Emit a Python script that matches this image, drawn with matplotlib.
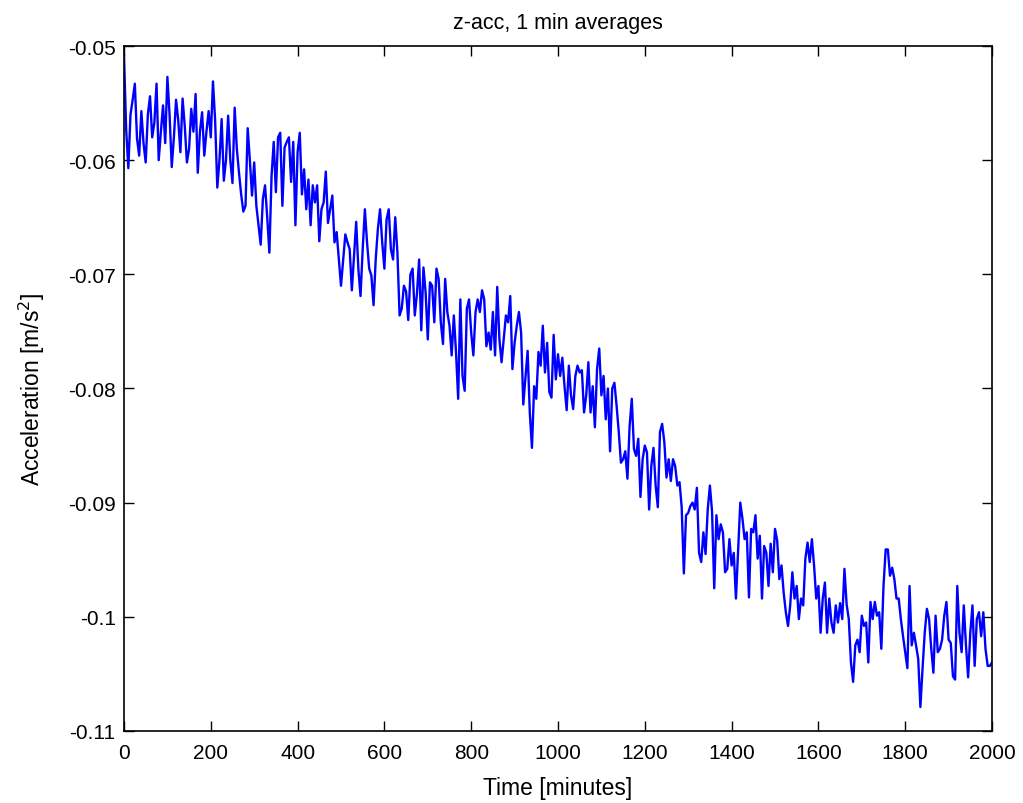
import numpy as np
import matplotlib
matplotlib.use("Agg")
import matplotlib.pyplot as plt

# --- data (one value every 5 minutes) ---
minutes = list(range(0, 2001, 5))
acc = [
    -0.0508, -0.0573, -0.0607, -0.0560, -0.0547, -0.0533, -0.0581, -0.0596, -0.0557, -0.0585,
    -0.0602, -0.0560, -0.0544, -0.0580, -0.0567, -0.0533, -0.0600, -0.0575, -0.0552, -0.0585,
    -0.0527, -0.0560, -0.0606, -0.0580, -0.0547, -0.0565, -0.0593, -0.0546, -0.0570, -0.0602,
    -0.0590, -0.0555, -0.0575, -0.0542, -0.0611, -0.0575, -0.0558, -0.0596, -0.0575, -0.0557,
    -0.0580, -0.0531, -0.0565, -0.0624, -0.0600, -0.0564, -0.0618, -0.0600, -0.0561, -0.0600,
    -0.0620, -0.0554, -0.0590, -0.0611, -0.0630, -0.0645, -0.0640, -0.0572, -0.0600, -0.0631,
    -0.0602, -0.0640, -0.0657, -0.0674, -0.0634, -0.0622, -0.0650, -0.0681, -0.0614, -0.0584,
    -0.0628, -0.0580, -0.0576, -0.0640, -0.0589, -0.0584, -0.0580, -0.0619, -0.0584, -0.0657,
    -0.0593, -0.0576, -0.0630, -0.0608, -0.0643, -0.0617, -0.0657, -0.0622, -0.0637, -0.0622,
    -0.0671, -0.0643, -0.0637, -0.0610, -0.0655, -0.0643, -0.0631, -0.0672, -0.0663, -0.0687,
    -0.0710, -0.0687, -0.0665, -0.0672, -0.0678, -0.0714, -0.0684, -0.0654, -0.0695, -0.0719,
    -0.0678, -0.0643, -0.0672, -0.0695, -0.0701, -0.0727, -0.0687, -0.0660, -0.0643, -0.0672,
    -0.0695, -0.0652, -0.0643, -0.0678, -0.0687, -0.0650, -0.0681, -0.0736, -0.0730, -0.0710,
    -0.0715, -0.0740, -0.0700, -0.0695, -0.0736, -0.0717, -0.0687, -0.0749, -0.0694, -0.0716,
    -0.0757, -0.0707, -0.0710, -0.0742, -0.0695, -0.0704, -0.0742, -0.0761, -0.0704, -0.0733,
    -0.0745, -0.0771, -0.0736, -0.0768, -0.0809, -0.0722, -0.0789, -0.0802, -0.0730, -0.0722,
    -0.0751, -0.0771, -0.0733, -0.0722, -0.0733, -0.0714, -0.0722, -0.0763, -0.0751, -0.0766,
    -0.0733, -0.0771, -0.0711, -0.0757, -0.0777, -0.0757, -0.0736, -0.0742, -0.0719, -0.0783,
    -0.0760, -0.0745, -0.0733, -0.0751, -0.0814, -0.0790, -0.0767, -0.0821, -0.0852, -0.0798,
    -0.0809, -0.0768, -0.0780, -0.0745, -0.0786, -0.0760, -0.0803, -0.0808, -0.0753, -0.0792,
    -0.0770, -0.0789, -0.0773, -0.0798, -0.0819, -0.0780, -0.0806, -0.0818, -0.0789, -0.0780,
    -0.0786, -0.0784, -0.0821, -0.0806, -0.0777, -0.0821, -0.0798, -0.0834, -0.0783, -0.0765,
    -0.0806, -0.0789, -0.0827, -0.0800, -0.0855, -0.0800, -0.0795, -0.0815, -0.0838, -0.0865,
    -0.0862, -0.0855, -0.0879, -0.0833, -0.0809, -0.0853, -0.0859, -0.0844, -0.0895, -0.0862,
    -0.0850, -0.0856, -0.0906, -0.0868, -0.0852, -0.0885, -0.0904, -0.0838, -0.0831, -0.0847,
    -0.0878, -0.0862, -0.0881, -0.0862, -0.0868, -0.0885, -0.0882, -0.0904, -0.0962, -0.0911,
    -0.0909, -0.0903, -0.0900, -0.0906, -0.0887, -0.0944, -0.0952, -0.0926, -0.0945, -0.0906,
    -0.0885, -0.0908, -0.0975, -0.0911, -0.0932, -0.0919, -0.0926, -0.0961, -0.0958, -0.0932,
    -0.0955, -0.0944, -0.0984, -0.0941, -0.0900, -0.0914, -0.0932, -0.0926, -0.0983, -0.0923,
    -0.0926, -0.0911, -0.0949, -0.0929, -0.0984, -0.0938, -0.0944, -0.0973, -0.0936, -0.0961,
    -0.0923, -0.0933, -0.0967, -0.0955, -0.0979, -0.0996, -0.1008, -0.0990, -0.0961, -0.0984,
    -0.0973, -0.1002, -0.0984, -0.0990, -0.0949, -0.0935, -0.0952, -0.0932, -0.0955, -0.0984,
    -0.0973, -0.1014, -0.0984, -0.0970, -0.1014, -0.0984, -0.1005, -0.1014, -0.0990, -0.1005,
    -0.0988, -0.1002, -0.0958, -0.0989, -0.1002, -0.1040, -0.1057, -0.1025, -0.1020, -0.1031,
    -0.0999, -0.1008, -0.1005, -0.1040, -0.0987, -0.1002, -0.0987, -0.0999, -0.0996, -0.1028,
    -0.0973, -0.0941, -0.0941, -0.0964, -0.0957, -0.0967, -0.0984, -0.0984, -0.1002, -0.1017,
    -0.1031, -0.1045, -0.0973, -0.1025, -0.1014, -0.1025, -0.1037, -0.1079, -0.1045, -0.1014,
    -0.0993, -0.1002, -0.1028, -0.1049, -0.0999, -0.1031, -0.1028, -0.1020, -0.0999, -0.0987,
    -0.1020, -0.1023, -0.1052, -0.1055, -0.0973, -0.1014, -0.1031, -0.0990, -0.1025, -0.1053,
    -0.1014, -0.0990, -0.1043, -0.1002, -0.0996, -0.1017, -0.0996, -0.1028, -0.1043, -0.1043,
    -0.1040,
]

x_ticks = list(range(0, 2001, 200))
y_ticks = [-0.11, -0.10, -0.09, -0.08, -0.07, -0.06, -0.05]
y_tick_labels = ["-0.11", "-0.1", "-0.09", "-0.08", "-0.07", "-0.06", "-0.05"]

plt.rcParams["font.family"] = ["Liberation Sans", "DejaVu Sans"]

fig = plt.figure(figsize=(10.23, 8.04), dpi=100)
ax = fig.add_axes([0.1212, 0.0896, 0.8485, 0.8519])

ax.plot(minutes, acc, color="#0000ff", linewidth=1.7)

ax.set_xlim(0, 2000)
ax.set_ylim(-0.11, -0.05)
ax.set_xticks(x_ticks)
ax.set_yticks(y_ticks)
ax.set_yticklabels(y_tick_labels)
ax.tick_params(direction="in", length=7, width=1, top=True, right=True, labelsize=15)
ax.tick_params(axis="x", pad=9)
ax.tick_params(axis="y", pad=6)
for sp in ax.spines.values():
    sp.set_linewidth(1.2)

ax.set_title("z-acc, 1 min averages", fontsize=15.5, pad=13)
ax.set_xlabel("Time [minutes]", fontsize=16.5, labelpad=10)
ax.set_ylabel("Acceleration [m/s$^2$]", fontsize=16.5, labelpad=15)

fig.savefig("out.png", dpi=100)
